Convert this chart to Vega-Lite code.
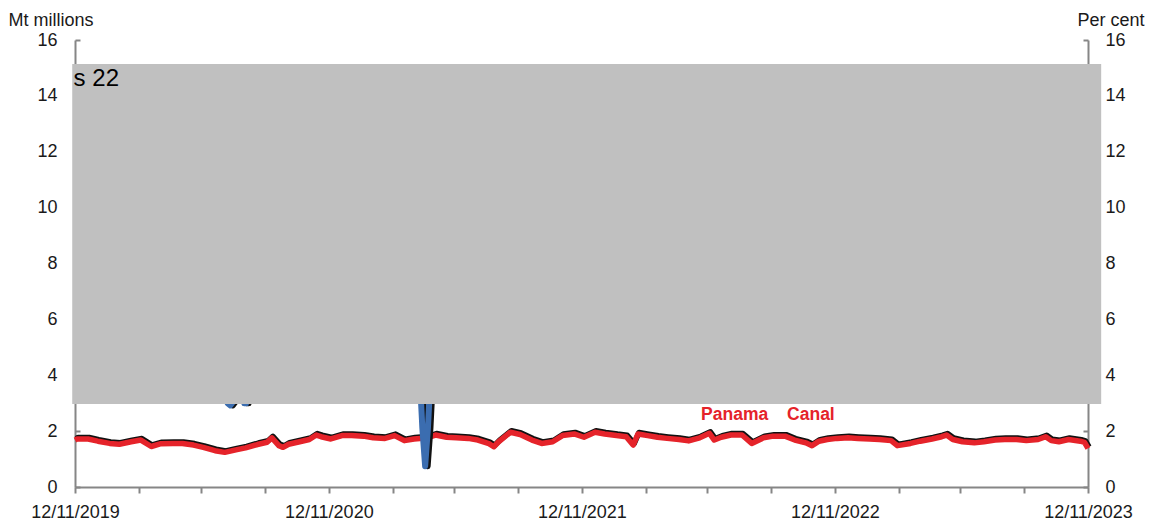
{
  "$schema": "https://vega.github.io/schema/vega-lite/v6.json",
  "width": 1013,
  "height": 447,
  "autosize": {"type": "none"},
  "padding": {"left": 75, "top": 40, "right": 80, "bottom": 39},
  "background": "white",
  "config": {
    "view": {"stroke": null},
    "font": "Liberation Sans",
    "axis": {
      "labelFont": "Liberation Sans",
      "titleFont": "Liberation Sans",
      "labelFontSize": 18,
      "labelColor": "#1a1a1a",
      "domainColor": "#868686",
      "tickColor": "#868686",
      "domainWidth": 2,
      "tickWidth": 2,
      "grid": false,
      "titleFontWeight": "normal",
      "titleFontSize": 18,
      "titleColor": "#1a1a1a"
    }
  },
  "datasets": {
    "panama": [
      {"date": "2019-11-12", "value": 1.68},
      {"date": "2019-11-15", "value": 1.72},
      {"date": "2019-12-01", "value": 1.72},
      {"date": "2019-12-15", "value": 1.64},
      {"date": "2020-01-01", "value": 1.56},
      {"date": "2020-01-15", "value": 1.53},
      {"date": "2020-02-01", "value": 1.62},
      {"date": "2020-02-15", "value": 1.68},
      {"date": "2020-03-01", "value": 1.45},
      {"date": "2020-03-15", "value": 1.55},
      {"date": "2020-04-01", "value": 1.56},
      {"date": "2020-04-15", "value": 1.56},
      {"date": "2020-05-01", "value": 1.5},
      {"date": "2020-05-15", "value": 1.42},
      {"date": "2020-06-01", "value": 1.3},
      {"date": "2020-06-15", "value": 1.24},
      {"date": "2020-07-01", "value": 1.33},
      {"date": "2020-07-15", "value": 1.4},
      {"date": "2020-08-01", "value": 1.52},
      {"date": "2020-08-15", "value": 1.6},
      {"date": "2020-08-22", "value": 1.76},
      {"date": "2020-09-01", "value": 1.48},
      {"date": "2020-09-07", "value": 1.42},
      {"date": "2020-09-15", "value": 1.53},
      {"date": "2020-10-01", "value": 1.62},
      {"date": "2020-10-15", "value": 1.7},
      {"date": "2020-10-25", "value": 1.86},
      {"date": "2020-11-01", "value": 1.8},
      {"date": "2020-11-15", "value": 1.72},
      {"date": "2020-12-01", "value": 1.84},
      {"date": "2020-12-15", "value": 1.84},
      {"date": "2021-01-01", "value": 1.82},
      {"date": "2021-01-15", "value": 1.76},
      {"date": "2021-02-01", "value": 1.74},
      {"date": "2021-02-15", "value": 1.84},
      {"date": "2021-03-01", "value": 1.66},
      {"date": "2021-03-15", "value": 1.72},
      {"date": "2021-04-01", "value": 1.75},
      {"date": "2021-04-15", "value": 1.86},
      {"date": "2021-05-01", "value": 1.78},
      {"date": "2021-05-15", "value": 1.76},
      {"date": "2021-06-01", "value": 1.74},
      {"date": "2021-06-15", "value": 1.68},
      {"date": "2021-07-01", "value": 1.55},
      {"date": "2021-07-08", "value": 1.44},
      {"date": "2021-07-15", "value": 1.62},
      {"date": "2021-08-01", "value": 1.96},
      {"date": "2021-08-15", "value": 1.88},
      {"date": "2021-09-01", "value": 1.68},
      {"date": "2021-09-15", "value": 1.56},
      {"date": "2021-10-01", "value": 1.62},
      {"date": "2021-10-15", "value": 1.84},
      {"date": "2021-11-01", "value": 1.9},
      {"date": "2021-11-15", "value": 1.78},
      {"date": "2021-12-01", "value": 1.96},
      {"date": "2021-12-15", "value": 1.9},
      {"date": "2022-01-01", "value": 1.84},
      {"date": "2022-01-15", "value": 1.8},
      {"date": "2022-01-25", "value": 1.5},
      {"date": "2022-02-01", "value": 1.9},
      {"date": "2022-02-15", "value": 1.84},
      {"date": "2022-03-01", "value": 1.78},
      {"date": "2022-03-15", "value": 1.74},
      {"date": "2022-04-01", "value": 1.7},
      {"date": "2022-04-15", "value": 1.65},
      {"date": "2022-05-01", "value": 1.76},
      {"date": "2022-05-15", "value": 1.92},
      {"date": "2022-05-22", "value": 1.68},
      {"date": "2022-06-01", "value": 1.78},
      {"date": "2022-06-15", "value": 1.86},
      {"date": "2022-07-01", "value": 1.86},
      {"date": "2022-07-15", "value": 1.56},
      {"date": "2022-08-01", "value": 1.76},
      {"date": "2022-08-15", "value": 1.82},
      {"date": "2022-09-01", "value": 1.82},
      {"date": "2022-09-15", "value": 1.68},
      {"date": "2022-10-01", "value": 1.58},
      {"date": "2022-10-10", "value": 1.48},
      {"date": "2022-10-20", "value": 1.64},
      {"date": "2022-11-01", "value": 1.7},
      {"date": "2022-11-15", "value": 1.74},
      {"date": "2022-12-01", "value": 1.76},
      {"date": "2022-12-15", "value": 1.74},
      {"date": "2023-01-01", "value": 1.72},
      {"date": "2023-01-15", "value": 1.7},
      {"date": "2023-02-01", "value": 1.66},
      {"date": "2023-02-10", "value": 1.48},
      {"date": "2023-02-15", "value": 1.5},
      {"date": "2023-03-01", "value": 1.56},
      {"date": "2023-03-15", "value": 1.64},
      {"date": "2023-04-01", "value": 1.72},
      {"date": "2023-04-15", "value": 1.8},
      {"date": "2023-04-22", "value": 1.86},
      {"date": "2023-05-01", "value": 1.7},
      {"date": "2023-05-15", "value": 1.62},
      {"date": "2023-06-01", "value": 1.58},
      {"date": "2023-06-15", "value": 1.62},
      {"date": "2023-07-01", "value": 1.68},
      {"date": "2023-07-15", "value": 1.7},
      {"date": "2023-08-01", "value": 1.7},
      {"date": "2023-08-15", "value": 1.66},
      {"date": "2023-09-01", "value": 1.7},
      {"date": "2023-09-12", "value": 1.8},
      {"date": "2023-09-20", "value": 1.66},
      {"date": "2023-10-01", "value": 1.62},
      {"date": "2023-10-15", "value": 1.7},
      {"date": "2023-11-01", "value": 1.64},
      {"date": "2023-11-07", "value": 1.6},
      {"date": "2023-11-12", "value": 1.38}
    ],
    "other": [
      {"date": "2019-11-12", "value": 4.8},
      {"date": "2019-12-12", "value": 5.0},
      {"date": "2020-01-12", "value": 4.9},
      {"date": "2020-02-12", "value": 5.1},
      {"date": "2020-03-12", "value": 4.7},
      {"date": "2020-04-12", "value": 4.4},
      {"date": "2020-05-12", "value": 4.1},
      {"date": "2020-06-08", "value": 3.9},
      {"date": "2020-06-19", "value": 3.0},
      {"date": "2020-06-23", "value": 2.92},
      {"date": "2020-06-27", "value": 3.05},
      {"date": "2020-07-05", "value": 3.8},
      {"date": "2020-07-09", "value": 3.6},
      {"date": "2020-07-13", "value": 3.0},
      {"date": "2020-07-16", "value": 3.0},
      {"date": "2020-07-21", "value": 3.8},
      {"date": "2020-08-12", "value": 4.1},
      {"date": "2020-09-12", "value": 4.4},
      {"date": "2020-10-12", "value": 4.6},
      {"date": "2020-11-12", "value": 4.8},
      {"date": "2020-12-12", "value": 5.0},
      {"date": "2021-01-12", "value": 5.2},
      {"date": "2021-02-12", "value": 5.1},
      {"date": "2021-03-12", "value": 5.0},
      {"date": "2021-03-22", "value": 4.6},
      {"date": "2021-03-27", "value": 2.1},
      {"date": "2021-03-31", "value": 0.74},
      {"date": "2021-04-04", "value": 2.1},
      {"date": "2021-04-09", "value": 4.6},
      {"date": "2021-04-20", "value": 5.4},
      {"date": "2021-05-12", "value": 5.2},
      {"date": "2021-06-12", "value": 5.1},
      {"date": "2021-07-12", "value": 5.3},
      {"date": "2021-08-12", "value": 5.2},
      {"date": "2021-09-12", "value": 5.4},
      {"date": "2021-10-12", "value": 5.3},
      {"date": "2021-11-12", "value": 5.5},
      {"date": "2021-12-12", "value": 5.6},
      {"date": "2022-01-12", "value": 5.4},
      {"date": "2022-02-12", "value": 5.5},
      {"date": "2022-03-12", "value": 5.7},
      {"date": "2022-04-12", "value": 5.8},
      {"date": "2022-05-12", "value": 5.9},
      {"date": "2022-06-12", "value": 6.0},
      {"date": "2022-07-12", "value": 5.8},
      {"date": "2022-08-12", "value": 5.9},
      {"date": "2022-09-12", "value": 6.1},
      {"date": "2022-10-12", "value": 6.2},
      {"date": "2022-11-12", "value": 6.0},
      {"date": "2022-12-12", "value": 6.1},
      {"date": "2023-01-12", "value": 6.3},
      {"date": "2023-02-12", "value": 6.2},
      {"date": "2023-03-12", "value": 6.4},
      {"date": "2023-04-12", "value": 6.5},
      {"date": "2023-05-12", "value": 6.6},
      {"date": "2023-06-12", "value": 6.5},
      {"date": "2023-07-12", "value": 6.7},
      {"date": "2023-08-12", "value": 6.6},
      {"date": "2023-09-12", "value": 6.8},
      {"date": "2023-10-12", "value": 6.7},
      {"date": "2023-11-12", "value": 6.5}
    ],
    "box": [
      {"date": "2019-11-08", "end": "2023-12-01", "low": 2.97, "high": 15.14}
    ],
    "boxtext": [
      {"date": "2019-11-10", "value": 14.35, "text": "s 22"}
    ],
    "series_labels": [
      {"date": "2022-05-03", "value": 2.4, "text": "Panama"},
      {"date": "2022-09-04", "value": 2.4, "text": "Canal"}
    ]
  },
  "encoding": {
    "x": {
      "field": "date", "type": "temporal",
      "scale": {"type": "utc", "domain": [{"year": 2019, "month": 11, "date": 12, "utc": true}, {"year": 2023, "month": 11, "date": 12, "utc": true}]},
      "axis": {
        "orient": "bottom",
        "title": null,
        "values": [
          {"year": 2019, "month": 11, "date": 12, "utc": true},
          {"year": 2020, "month": 2, "date": 12, "utc": true},
          {"year": 2020, "month": 5, "date": 12, "utc": true},
          {"year": 2020, "month": 8, "date": 12, "utc": true},
          {"year": 2020, "month": 11, "date": 12, "utc": true},
          {"year": 2021, "month": 2, "date": 12, "utc": true},
          {"year": 2021, "month": 5, "date": 12, "utc": true},
          {"year": 2021, "month": 8, "date": 12, "utc": true},
          {"year": 2021, "month": 11, "date": 12, "utc": true},
          {"year": 2022, "month": 2, "date": 12, "utc": true},
          {"year": 2022, "month": 5, "date": 12, "utc": true},
          {"year": 2022, "month": 8, "date": 12, "utc": true},
          {"year": 2022, "month": 11, "date": 12, "utc": true},
          {"year": 2023, "month": 2, "date": 12, "utc": true},
          {"year": 2023, "month": 5, "date": 12, "utc": true},
          {"year": 2023, "month": 8, "date": 12, "utc": true},
          {"year": 2023, "month": 11, "date": 12, "utc": true}
        ],
        "labelExpr": "utcmonth(datum.value) == 10 ? utcFormat(datum.value, '%d/%m/%Y') : ''",
        "tickSize": 6,
        "labelPadding": 10,
        "labelOverlap": false,
        "labelBound": false,
        "labelFlush": false
      }
    }
  },
  "resolve": {"axis": {"y": "independent"}},
  "layer": [
    {
      "data": {"name": "panama"},
      "mark": {"type": "line", "color": "#111111", "strokeWidth": 5.5, "yOffset": -1.5, "xOffset": 1, "strokeJoin": "round"},
      "encoding": {
        "y": {
          "field": "value", "type": "quantitative",
          "scale": {"domain": [0, 16]},
          "axis": {
            "orient": "left",
            "values": [0, 2, 4, 6, 8, 10, 12, 14, 16],
            "tickSize": -5,
            "labelPadding": 23,
            "title": "Mt millions",
            "titleAngle": 0,
            "titleAlign": "left",
            "titleBaseline": "alphabetic",
            "titleX": -67,
            "titleY": -15
          }
        }
      }
    },
    {
      "data": {"name": "panama"},
      "mark": {"type": "line", "color": "#e5232a", "strokeWidth": 5.5, "strokeJoin": "round"},
      "encoding": {
        "y": {
          "field": "value", "type": "quantitative",
          "scale": {"domain": [0, 16]},
          "axis": {
            "orient": "right",
            "values": [0, 2, 4, 6, 8, 10, 12, 14, 16],
            "tickSize": -5,
            "labelPadding": 22,
            "title": "Per cent",
            "titleAngle": 0,
            "titleAlign": "left",
            "titleBaseline": "alphabetic",
            "titleX": -11,
            "titleY": -15
          }
        }
      }
    },
    {
      "data": {"name": "other"},
      "mark": {"type": "line", "color": "#111111", "strokeWidth": 6, "xOffset": 2.5, "strokeJoin": "round"},
      "encoding": {
        "y": {"field": "value", "type": "quantitative", "axis": null}
      }
    },
    {
      "data": {"name": "other"},
      "mark": {"type": "line", "color": "#3b6db0", "strokeWidth": 6, "strokeJoin": "round"},
      "encoding": {
        "y": {"field": "value", "type": "quantitative", "axis": null}
      }
    },
    {
      "data": {"name": "box"},
      "mark": {"type": "rect", "color": "#c0c0c0", "clip": false},
      "encoding": {
        "x2": {"field": "end"},
        "y": {"field": "low", "type": "quantitative", "axis": null},
        "y2": {"field": "high"}
      }
    },
    {
      "data": {"name": "boxtext"},
      "mark": {"type": "text", "align": "left", "baseline": "alphabetic", "fontSize": 24, "color": "#000000", "font": "Liberation Sans"},
      "encoding": {
        "y": {"field": "value", "type": "quantitative", "axis": null},
        "text": {"field": "text"}
      }
    },
    {
      "data": {"name": "series_labels"},
      "mark": {"type": "text", "align": "left", "baseline": "alphabetic", "fontSize": 17.5, "fontWeight": "bold", "color": "#e5232a", "font": "Liberation Sans"},
      "encoding": {
        "y": {"field": "value", "type": "quantitative", "axis": null},
        "text": {"field": "text"}
      }
    }
  ]
}
